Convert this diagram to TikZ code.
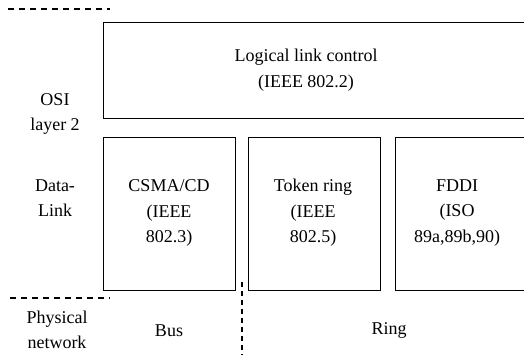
\documentclass[tikz,border=0pt]{standalone}
\usepackage{fontspec}
\setmainfont{Liberation Serif}
\begin{document}
\begin{tikzpicture}[x=1pt,y=-1pt,
  box/.style={draw, line width=1.1pt, inner sep=0pt, anchor=north west},
  lbl/.style={font=\fontsize{18}{25.5}\selectfont, align=center, inner sep=0pt},
  sep/.style={line width=1.1pt, dash pattern=on 6pt off 5pt}]
\useasboundingbox (0,0) rectangle (524,355);

% upper sublayer
\node[box, minimum width=430pt, minimum height=96pt] (llc) at (103,22) {};
\node[lbl] (llct) at (306,70) {Logical link control\\(IEEE 802.2)};

% MAC sublayer variants
\node[box, minimum width=132pt, minimum height=153pt] (csma) at (103,137) {};
\node[box, minimum width=132pt, minimum height=153pt] (token) at (248,137) {};
\node[box, minimum width=140pt, minimum height=153pt] (fddi) at (395,137) {};
\node[lbl] (csmat) at (169,213) {CSMA/CD\\(IEEE\\802.3)};
\node[lbl] (tokent) at (313,213) {Token ring\\(IEEE\\802.5)};
\node[lbl] (fddit) at (457,213) {FDDI\\(ISO\\89a,89b,90)};

% side labels
\node[lbl] (osi) at (55,114) {OSI\\layer 2};
\node[lbl] (dl) at (55,198) {Data-\\Link};
\node[lbl] (phy) at (57,330) {Physical\\network};
\node[lbl] (bus) at (169,331) {Bus};
\node[lbl] (ring) at (389,330) {Ring};

% layer separators
\coordinate (t1) at (8,9);
\coordinate (t2) at (110,9);
\coordinate (b1) at (10,298);
\coordinate (b2) at (110,298);
\coordinate (v1) at (242,282);
\coordinate (v2) at (242,355);
\draw[sep] (t1) -- (t2);
\draw[sep] (b1) -- (b2);
\draw[sep, dash pattern=on 5pt off 4pt] (v1) -- (v2);
\end{tikzpicture}
\end{document}
